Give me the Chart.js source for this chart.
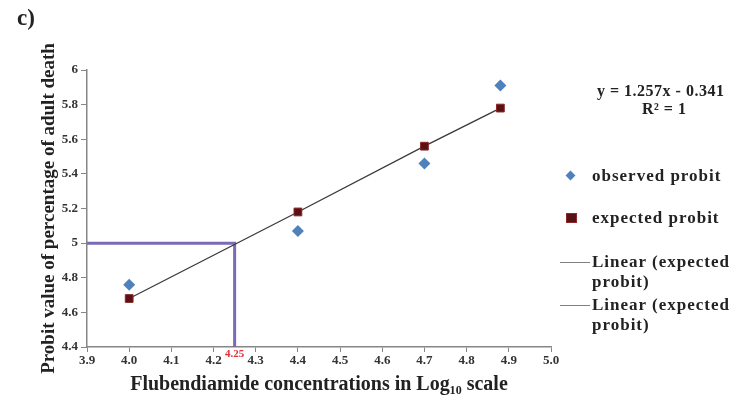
<!DOCTYPE html>
<html>
<head>
<meta charset="utf-8">
<script src="https://cdn.jsdelivr.net/npm/chart.js@4.4.0/dist/chart.umd.min.js"></script>
<style>
  html, body { margin: 0; padding: 0; background: #fff; }
  #wrap { position: relative; width: 736px; height: 399px; font-family: "Liberation Serif", serif; font-weight: bold; color: #222; }
  #wrap canvas { position: absolute; left: 0; top: 0; }
  .txt { position: absolute; white-space: nowrap; }
  .leg { font-size: 17px; letter-spacing: 1px; line-height: 20px; }
  .mk { position: absolute; }
</style>
</head>
<body>
<div id="wrap">
  <canvas id="probitChart" width="736" height="399"></canvas>
  <div class="txt" style="left:17px; top:5px; font-size:23px;">c)</div>
  <div class="txt" style="left:597px; top:82px; font-size:16px; letter-spacing:0.5px;">y = 1.257x - 0.341</div>
  <div class="txt" style="left:642px; top:100px; font-size:16px; letter-spacing:0.5px;">R² = 1</div>

  <div class="mk" style="left:567px; top:172px; width:7px; height:7px; background:#4F81BD; transform:rotate(45deg);"></div>
  <div class="txt leg" style="left:592px; top:166px;">observed probit</div>

  <div class="mk" style="left:566px; top:213px; width:9px; height:8px; background:#5A1014; border:1px solid #8a2a2a;"></div>
  <div class="txt leg" style="left:592px; top:208px;">expected probit</div>

  <div class="mk" style="left:560px; top:262px; width:30px; height:1px; background:#808080;"></div>
  <div class="txt leg" style="left:592px; top:252px;">Linear (expected<br>probit)</div>

  <div class="mk" style="left:560px; top:305px; width:30px; height:1px; background:#808080;"></div>
  <div class="txt leg" style="left:592px; top:295px;">Linear (expected<br>probit)</div>
</div>
<script>
// valores
const concLog = [4.0, 4.4, 4.7, 4.88];
const observedProbit = [4.76, 5.07, 5.46, 5.91];
const expectedProbit = [4.68, 5.18, 5.56, 5.78];
const lc50X = [3.9, 4.25, 4.25];
const lc50Y = [5, 5, 4.4];
const lc50Label = '4.25';

const toPoints = (xs, ys) => xs.map((x, i) => ({ x: x, y: ys[i] }));

const serif = '"Liberation Serif", "Times New Roman", serif';
const axisColor = '#868686';

// etiqueta roja del valor LC50 bajo el eje
const lc50Tag = {
    id: 'lc50Tag',
    afterDraw(chart) {
        const ctx = chart.ctx;
        const xs = chart.scales.x;
        const ys = chart.scales.y;
        ctx.save();
        ctx.font = 'bold 11px ' + serif;
        ctx.fillStyle = '#e0303a';
        ctx.textAlign = 'center';
        ctx.textBaseline = 'middle';
        ctx.fillText(lc50Label, xs.getPixelForValue(lc50X[1]), ys.bottom + 7);
        ctx.restore();
    }
};

new Chart(document.getElementById('probitChart').getContext('2d'), {
    type: 'scatter',
    data: {
        datasets: [
            {
                label: 'lc50',
                data: toPoints(lc50X, lc50Y),
                showLine: true,
                borderColor: '#7B6BB5',
                borderWidth: 3,
                pointRadius: 0,
                order: 3
            },
            {
                label: 'Linear (expected probit)',
                data: toPoints(concLog, expectedProbit),
                showLine: true,
                borderColor: '#3a3a3a',
                borderWidth: 1.3,
                pointRadius: 0,
                order: 2
            },
            {
                label: 'observed probit',
                data: toPoints(concLog, observedProbit),
                pointStyle: 'rectRot',
                pointRadius: 6,
                backgroundColor: '#4F81BD',
                borderColor: '#4F81BD',
                borderWidth: 0,
                order: 1
            },
            {
                label: 'expected probit',
                data: toPoints(concLog, expectedProbit),
                pointStyle: 'rect',
                pointRadius: 5.5,
                backgroundColor: '#5A1014',
                borderColor: '#8a2a2a',
                borderWidth: 1,
                order: 0
            }
        ]
    },
    options: {
        responsive: false,
        animation: false,
        layout: { padding: { left: 34, top: 70, right: 185, bottom: 0 } },
        plugins: {
            legend: { display: false },
            tooltip: { enabled: false }
        },
        scales: {
            x: {
                type: 'linear',
                min: 3.9,
                max: 5.0,
                afterFit: function(scale) { scale.height = 52; },
                border: { color: axisColor, width: 1.5 },
                grid: { drawOnChartArea: false, color: axisColor, tickLength: 5 },
                ticks: {
                    stepSize: 0.1,
                    padding: 1,
                    color: '#333',
                    font: { family: serif, size: 13, weight: 'bold' },
                    callback: function(v) { return v.toFixed(1); }
                },
                title: {
                    display: true,
                    text: 'Flubendiamide concentrations in Log₁₀ scale',
                    color: '#222',
                    padding: { top: 2, bottom: 2 },
                    font: { family: serif, size: 20, weight: 'bold' }
                }
            },
            y: {
                min: 4.4,
                max: 6,
                afterFit: function(scale) { scale.width = 53; },
                border: { color: axisColor, width: 1.5 },
                grid: { drawOnChartArea: false, color: axisColor, tickLength: 6 },
                ticks: {
                    stepSize: 0.2,
                    padding: 3,
                    color: '#333',
                    font: { family: serif, size: 13, weight: 'bold' },
                    callback: function(v) { return String(Number(v.toFixed(1))); }
                },
                title: {
                    display: true,
                    text: 'Probit value of percentage of adult death',
                    color: '#222',
                    font: { family: serif, size: 19, weight: 'bold' }
                }
            }
        }
    },
    plugins: [lc50Tag]
});
</script>
</body>
</html>
